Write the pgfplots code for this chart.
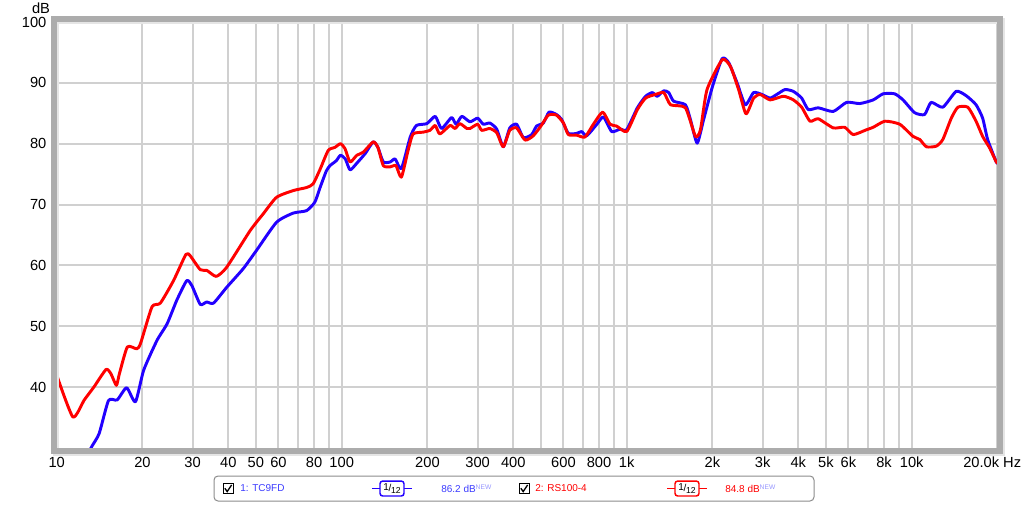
\documentclass[border=0pt]{standalone}
\usepackage{pgfplots}
\pgfplotsset{compat=1.18}
\usepackage{fontspec}
\setmainfont{Liberation Sans}
\definecolor{cblue}{RGB}{34,0,255}
\definecolor{cred}{RGB}{255,0,0}
\definecolor{lblue}{RGB}{60,60,255}
\definecolor{newc}{RGB}{150,150,255}
\definecolor{gridc}{RGB}{208,208,208}
\definecolor{framec}{RGB}{172,172,172}
\begin{document}
\begin{tikzpicture}
\path[use as bounding box] (0,0) rectangle (768pt,378pt);
\begin{axis}[
  at={(42.5pt,42pt)}, anchor=south west, scale only axis,
  width=705.6pt, height=319.5pt,
  xmode=log, xmin=10, xmax=20000, ymin=30, ymax=100,
  xtick={10,20,30,40,50,60,70,80,90,100,200,300,400,500,600,700,800,900,1000,2000,3000,4000,5000,6000,7000,8000,9000,10000,20000},
  xticklabels={10,20,30,40,50,60,{},80,{},100,200,300,400,{},600,{},800,{},1k,2k,3k,4k,5k,6k,{},8k,{},10k,{}},
  ytick={40,50,60,70,80,90,100},
  grid=major, major grid style={color=gridc, line width=1.5pt},
  axis line style={draw=none}, tick style={draw=none},
  xticklabel style={anchor=north, inner sep=0pt, yshift=-6.75pt, font=\fontsize{11}{13}\selectfont},
  yticklabel style={anchor=east, inner sep=0pt, xshift=-7.5pt, font=\fontsize{11}{13}\selectfont},
  /pgf/number format/assume math mode=true,
  clip=true,
]
\addplot[cblue, line width=2.2pt, smooth, tension=0.35, line join=round] coordinates {
(12.7,28.5)(13.3,30.3)(14.1,32.4)(15.2,37.8)(16.3,37.9)(17.6,39.9)(18.9,37.6)(20.2,42.8)
(22.5,47.7)(24.4,50.4)(26.4,54.3)(28.6,57.5)(29.8,56.7)(31.9,53.6)(33.6,54.0)(35.5,53.8)
(39.5,56.4)(45.2,59.5)(50.3,62.5)(59.1,67.1)(67.6,68.6)(75.3,69.0)(80.5,70.4)(84,72.8)
(88.3,75.5)(91,76.4)(95.7,77.2)(99,78.1)(103,77.5)(107,75.7)(113,76.8)(121,78.4)(129,80.3)
(134,79.4)(140,77.0)(148,77.0)(154,77.5)(162,75.9)(174,81.1)(183,83.0)(199,83.3)(213,84.5)
(224,82.5)(243,84.3)(252,83.2)(264,84.5)(282,83.6)(300,84.2)(314,83.2)(331,83.4)(350,82.4)
(369,79.5)(389,82.6)(411,83.2)(434,81.0)(464,81.5)(483,82.9)(510,83.4)(534,85.2)(567,84.8)
(591,84.0)(624,81.7)(668,81.7)(695,82.0)(724,81.3)(786,83.2)(829,84.4)(886,82.0)(948,82.4)
(1000,82.3)(1090,85.9)(1165,87.8)(1230,88.4)(1280,87.8)(1350,88.7)(1405,88.4)(1460,87.0)
(1607,86.4)(1673,84.0)(1767,80.1)(1863,84.0)(2000,89.4)(2163,94.0)(2281,93.3)(2440,90.0)
(2607,86.4)(2788,88.4)(2980,88.1)(3186,87.5)(3363,88.1)(3594,88.9)(3845,88.6)(4111,87.5)
(4337,85.6)(4700,85.9)(5305,85.3)(5911,86.8)(6577,86.6)(7328,87.2)(7940,88.2)(8714,88.2)
(9325,87.2)(10240,85.1)(11100,84.8)(11700,86.8)(12860,86.0)(14320,88.6)(15520,87.9)
(16820,86.4)(17740,84.2)(18470,80.7)(19760,77.1)(20000,76.8)
};
\addplot[cred, line width=2.2pt, smooth, tension=0.35, line join=round] coordinates {
(10,42.0)(11.4,35.1)(12.5,37.9)(13.5,40.0)(14.9,42.9)(15.5,42.2)(16.2,40.3)(16.6,42.2)
(17.7,46.6)(19.1,46.3)(19.7,47.2)(21.6,53.2)(23.1,53.8)(25.7,57.5)(28.4,61.8)(29.4,61.6)
(31.9,59.3)(33.6,59.2)(36.3,58.2)(39.5,59.7)(47.7,65.7)(53.1,68.5)(59.1,71.2)(67.6,72.3)
(75.3,72.8)(79.4,73.4)(84,75.8)(89.7,78.9)(94.7,79.4)(99,80.0)(102.7,79.2)(107,77.0)
(113,78.1)(119,78.6)(129,80.3)(134,79.4)(140,76.4)(148,76.2)(155,76.4)(162,74.5)(171,78.9)
(178,81.6)(193,81.9)(204,82.2)(213,83.0)(221,81.6)(240,83.0)(250,82.5)(260,83.3)(275,82.5)
(282,82.5)(300,83.2)(310,82.2)(331,82.5)(350,81.8)(369,79.5)(389,82.2)(411,82.6)(440,80.6)
(470,81.3)(500,82.9)(531,84.7)(567,84.7)(600,83.4)(624,81.5)(668,81.4)(714,81.1)(764,83.2)
(824,85.2)(874,83.2)(922,82.9)(1000,82.0)(1090,85.6)(1165,87.5)(1263,88.1)(1350,88.4)
(1425,86.4)(1607,85.9)(1743,81.2)(1815,82.3)(1914,88.9)(2163,93.8)(2312,92.7)(2470,88.9)
(2622,84.9)(2788,87.5)(2940,88.1)(3186,87.2)(3547,87.8)(3845,87.2)(4111,86.0)(4397,83.7)
(4700,84.1)(5305,82.6)(5822,82.7)(6235,81.5)(6945,82.3)(7328,82.7)(8054,83.7)(9080,83.2)
(10110,81.2)(10670,80.7)(11260,79.5)(12200,79.6)(12860,80.7)(13770,84.2)(14530,86.0)
(15740,86.0)(16820,83.7)(17740,81.2)(18770,79.3)(19760,77.1)(20000,76.8)
};
\end{axis}
% frame
\draw[line width=4.5pt, color=black!10] (41.75pt,38.25pt) rectangle (751.85pt,362.25pt);
\draw[line width=4.5pt, color=framec] (40.25pt,39.75pt) rectangle (750.35pt,363.75pt);
% axis texts
\node[font=\fontsize{11}{13}\selectfont, inner sep=0pt] at (30.75pt,372pt) {dB};
\node[font=\fontsize{11}{13}\selectfont, inner sep=0pt, anchor=north west] at (722.25pt,35.25pt) {20.0k Hz};
% legend
\draw[rounded corners=3pt, draw=black!45, line width=0.75pt, fill=white] (160.5pt,2.25pt) rectangle (610.5pt,21pt);
\begin{scope}[font=\fontsize{7.5}{9}\selectfont]
% item 1
\draw[line width=0.6pt, fill=white] (167.25pt,7.85pt) rectangle (174.75pt,15.35pt);
\draw[line width=1pt] (168.6pt,11.8pt) -- (170.4pt,9.3pt) -- (173.7pt,14.3pt);
\node[anchor=west, inner sep=0pt, text=lblue] at (180pt,11.6pt) {1: TC9FD};
\draw[cblue, line width=1.1pt] (279pt,11.6pt) -- (309pt,11.6pt);
\draw[cblue, line width=1.1pt, fill=white, rounded corners=2pt] (285pt,6pt) rectangle (303pt,17.2pt);
\node[inner sep=0pt, font=\fontsize{7.5}{8}\selectfont] at (294pt,11.6pt) {\raisebox{1.2pt}{1}\kern-0.3pt/\kern-0.2pt\raisebox{-1.2pt}{\fontsize{6.5}{7}\selectfont 12}};
\node[anchor=west, inner sep=0pt, text=lblue] at (330.75pt,11.6pt) {86.2 dB\raisebox{2.5pt}{\textcolor{newc}{\fontsize{5}{6}\selectfont NEW}}};
% item 2
\draw[line width=0.6pt, fill=white] (389.25pt,7.85pt) rectangle (396.75pt,15.35pt);
\draw[line width=1pt] (390.6pt,11.8pt) -- (392.4pt,9.3pt) -- (395.7pt,14.3pt);
\node[anchor=west, inner sep=0pt, text=cred] at (401.25pt,11.6pt) {2: RS100-4};
\draw[cred, line width=1.1pt] (500.25pt,11.6pt) -- (530.25pt,11.6pt);
\draw[cred, line width=1.1pt, fill=white, rounded corners=2pt] (506.25pt,6pt) rectangle (524.25pt,17.2pt);
\node[inner sep=0pt, font=\fontsize{7.5}{8}\selectfont] at (515.25pt,11.6pt) {\raisebox{1.2pt}{1}\kern-0.3pt/\kern-0.2pt\raisebox{-1.2pt}{\fontsize{6.5}{7}\selectfont 12}};
\node[anchor=west, inner sep=0pt, text=cred] at (543.75pt,11.6pt) {84.8 dB\raisebox{2.5pt}{\textcolor{newc}{\fontsize{5}{6}\selectfont NEW}}};
\end{scope}
\end{tikzpicture}
\end{document}
